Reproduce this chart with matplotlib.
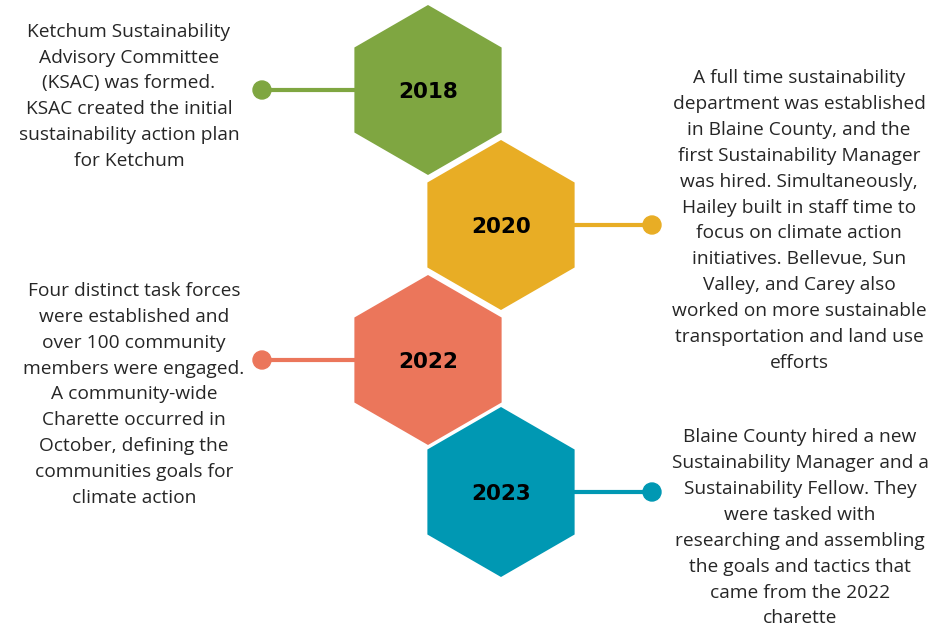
import matplotlib
matplotlib.use("Agg")
import matplotlib.pyplot as plt
from matplotlib.patches import RegularPolygon, Circle

# Datos del timeline ---------------------------------------------------------------
years = ["2018", "2020", "2022", "2023"]
colors = ["#7fa641", "#e8ad25", "#eb765b", "#0098b3"]
notes = [
    "Ketchum Sustainability\nAdvisory Committee\n(KSAC) was formed.\nKSAC created the initial\nsustainability action plan\nfor Ketchum",
    "A full time sustainability\ndepartment was established\nin Blaine County, and the\nfirst Sustainability Manager\nwas hired. Simultaneously,\nHailey built in staff time to\nfocus on climate action\ninitiatives. Bellevue, Sun\nValley, and Carey also\nworked on more sustainable\ntransportation and land use\nefforts",
    "Four distinct task forces\nwere established and\nover 100 community\nmembers were engaged.\nA community-wide\nCharette occurred in\nOctober, defining the\ncommunities goals for\nclimate action",
    "Blaine County hired a new\nSustainability Manager and a\nSustainability Fellow. They\nwere tasked with\nresearching and assembling\nthe goals and tactics that\ncame from the 2022\ncharette",
]

# Layout (pixeles) -----------------------------------------------------------------
W, H = 945, 626
hex_x = [428, 501, 428, 501]
hex_y = [90, 225, 360, 492]
hex_r = 85
dot_x = [262, 652, 262, 652]
text_x = [129, 799, 134, 800]
text_top = [36.7, 83.3, 296, 442.5]   # baseline de la primera linea
line_h = 25.85
text_color = "#262626"

fig = plt.figure(figsize=(W / 100, H / 100), dpi=100)
ax = fig.add_axes([0, 0, 1, 1])
ax.set_xlim(0, W)
ax.set_ylim(H, 0)
ax.set_axis_off()

for i, year in enumerate(years):
    cx, cy = hex_x[i], hex_y[i]
    # conector y punto
    ax.plot([dot_x[i], cx], [cy, cy], color=colors[i], lw=3, zorder=1,
            solid_capstyle="butt")
    ax.add_patch(Circle((dot_x[i], cy), 9, color=colors[i], zorder=2))
    # hexagono
    ax.add_patch(RegularPolygon((cx, cy), 6, radius=hex_r, orientation=0,
                                facecolor=colors[i], edgecolor="none", zorder=3))
    ax.text(cx, cy + 8.3, year, ha="center", va="baseline", fontsize=15.5,
            fontweight="bold", family="DejaVu Sans", color="black", zorder=4)
    # descripcion, linea por linea
    for k, line in enumerate(notes[i].split("\n")):
        ax.text(text_x[i], text_top[i] + k * line_h, line, ha="center",
                va="baseline", fontsize=13.8, family="Open Sans",
                color=text_color)

fig.savefig("out.png", dpi=100, facecolor="white")
